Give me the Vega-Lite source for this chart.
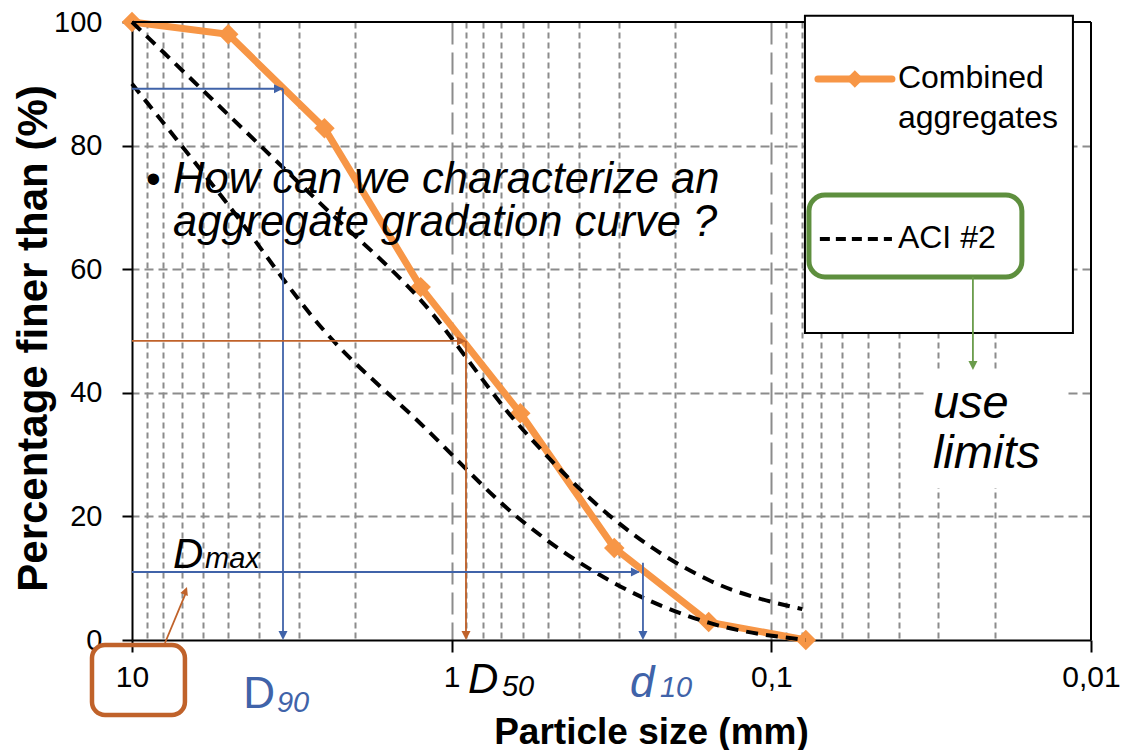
{
 "$schema": "https://vega.github.io/schema/vega-lite/v6.json",
 "width": 959,
 "height": 618,
 "autosize": {"type": "none"},
 "padding": {"left": 132, "top": 22, "right": 38, "bottom": 110},
 "background": "white",
 "config": {"view": {"stroke": null}, "font": "Liberation Sans"},
 "encoding": {
  "x": {"field": "d", "type": "quantitative",
   "scale": {"type": "log", "domain": [0.01, 10], "reverse": true, "nice": false},
   "axis": {
    "title": "Particle size (mm)", "titleFontSize": 37, "titleFontWeight": "bold", "titleColor": "black",
    "titleX": 519, "titleY": 103, "titleBaseline": "alphabetic", "titleAlign": "center",
    "values": [10, 9, 8, 7, 6, 5, 4, 3, 2, 1, 0.9, 0.8, 0.7, 0.6, 0.5, 0.4, 0.3, 0.2, 0.1, 0.09, 0.08, 0.07, 0.06, 0.05, 0.04, 0.03, 0.02, 0.01],
    "labelExpr": "datum.value==10?'10':datum.value==1?'1':datum.value==0.1?'0,1':datum.value==0.01?'0,01':''",
    "labelFontSize": 30, "labelColor": "black", "labelFlush": false, "labelOverlap": false, "labelPadding": 10,
    "domainColor": "black", "domainWidth": 2,
    "tickSize": 12, "tickColor": "black", "tickWidth": 2,
    "tickOpacity": {"condition": {"test": "datum.value==10||datum.value==1||datum.value==0.1||datum.value==0.01", "value": 1}, "value": 0},
    "grid": true, "gridColor": "#8c8c8c", "gridWidth": 2,
    "gridDash": {"condition": {"test": "datum.value==1||datum.value==0.1", "value": [22, 8]}, "value": [6, 4]},
    "gridOpacity": {"condition": {"test": "datum.value==10||datum.value==0.01", "value": 0}, "value": 1}
   }
  },
  "y": {"field": "p", "type": "quantitative",
   "scale": {"domain": [0, 100], "nice": false, "zero": false},
   "axis": {
    "title": "Percentage finer than (%)", "titleFontSize": 42, "titleFontWeight": "bold", "titleColor": "black",
    "titleX": -86, "titleY": 316, "titleBaseline": "alphabetic", "titleAlign": "center",
    "values": [0, 20, 40, 60, 80, 100],
    "labelFontSize": 29, "labelColor": "black", "labelPadding": 20,
    "tickSize": 10, "tickColor": "black", "tickWidth": 2,
    "domainColor": "black", "domainWidth": 2,
    "grid": true, "gridColor": "#8c8c8c", "gridWidth": 2, "gridDash": [9, 5],
    "gridOpacity": {"condition": {"test": "datum.value==0||datum.value==100", "value": 0}, "value": 1}
   }
  }
 },
 "layer": [
  {
   "data": {"values": [
    {"d": 10, "p": 100}, {"d": 5, "p": 98}, {"d": 2.5, "p": 82.8}, {"d": 1.25, "p": 57.1},
    {"d": 0.61, "p": 36.7}, {"d": 0.31, "p": 14.9}, {"d": 0.157, "p": 2.9}, {"d": 0.078, "p": 0}
   ]},
   "mark": {"type": "line", "color": "#F79646", "strokeWidth": 7,
    "point": {"shape": "diamond", "size": 420, "filled": true, "color": "#F79646"}}
  },
  {
   "data": {"values": [
    {"s": "upper", "d": 10, "p": 100}, {"s": "upper", "d": 5, "p": 85}, {"s": "upper", "d": 2.5, "p": 70},
    {"s": "upper", "d": 1.25, "p": 55}, {"s": "upper", "d": 0.61, "p": 34.5}, {"s": "upper", "d": 0.31, "p": 19.5},
    {"s": "upper", "d": 0.157, "p": 9.7}, {"s": "upper", "d": 0.08, "p": 5},
    {"s": "lower", "d": 10, "p": 90}, {"s": "lower", "d": 5, "p": 70.4}, {"s": "lower", "d": 2.5, "p": 50},
    {"s": "lower", "d": 1.25, "p": 35}, {"s": "lower", "d": 0.61, "p": 19.5}, {"s": "lower", "d": 0.31, "p": 9.2},
    {"s": "lower", "d": 0.157, "p": 2.8}, {"s": "lower", "d": 0.078, "p": 0}
   ]},
   "mark": {"type": "line", "color": "black", "strokeWidth": 4, "strokeDash": [12, 8], "interpolate": "monotone"},
   "encoding": {"detail": {"field": "s"}}
  },
  {
   "data": {"values": [
    {"d": 10, "d2": 0.01, "p": 100, "p2": 100},
    {"d": 0.01, "d2": 0.01, "p": 0, "p2": 100}
   ]},
   "mark": {"type": "rule", "color": "black", "strokeWidth": 2},
   "encoding": {"x2": {"field": "d2"}, "y2": {"field": "p2"}}
  },
  {
   "data": {"values": [
    {"k": "D90", "d": 10, "d2": 3.37, "p": 89.2, "p2": 89.2},
    {"k": "D90", "d": 3.37, "d2": 3.37, "p": 89.2, "p2": 1},
    {"k": "D50", "d": 10, "d2": 0.91, "p": 48.4, "p2": 48.4},
    {"k": "D50", "d": 0.902, "d2": 0.902, "p": 48.4, "p2": 1},
    {"k": "d10", "d": 10, "d2": 0.26, "p": 11.0, "p2": 11.0},
    {"k": "d10", "d": 0.2521, "d2": 0.2521, "p": 12.5, "p2": 1}
   ]},
   "mark": {"type": "rule", "strokeWidth": 1.8},
   "encoding": {
    "x2": {"field": "d2"}, "y2": {"field": "p2"},
    "color": {"field": "k", "type": "nominal", "scale": {"domain": ["D90", "D50", "d10"], "range": ["#4063A9", "#C0622A", "#4063A9"]}, "legend": null}
   }
  },
  {
   "data": {"values": [
    {"k": "D90", "d": 3.37, "p": 89.2}, {"k": "D50", "d": 0.902, "p": 48.4}, {"k": "d10", "d": 0.2576, "p": 11.0}
   ]},
   "mark": {"type": "point", "shape": "M0,0L-1,-0.5L-1,0.5Z", "filled": true, "size": 324, "opacity": 1},
   "encoding": {"color": {"field": "k", "type": "nominal", "scale": {"domain": ["D90", "D50", "d10"], "range": ["#4063A9", "#C0622A", "#4063A9"]}, "legend": null}}
  },
  {
   "data": {"values": [
    {"k": "D90", "d": 3.37, "p": 0}, {"k": "D50", "d": 0.902, "p": 0}, {"k": "d10", "d": 0.2521, "p": 0}
   ]},
   "mark": {"type": "point", "shape": "M0,0L-0.5,-1L0.5,-1Z", "filled": true, "size": 324, "opacity": 1},
   "encoding": {"color": {"field": "k", "type": "nominal", "scale": {"domain": ["D90", "D50", "d10"], "range": ["#4063A9", "#C0622A", "#4063A9"]}, "legend": null}}
  },
  {
   "data": {"values": [{"d": 13.34, "d2": 6.83, "p": -0.81, "p2": -12.14}]},
   "mark": {"type": "rect", "fill": "transparent", "stroke": "#C0622A", "strokeWidth": 4.5, "cornerRadius": 13},
   "encoding": {"x2": {"field": "d2"}, "y2": {"field": "p2"}}
  },
  {
   "data": {"values": [{"d": 7.885, "d2": 6.8, "p": -0.49, "p2": 7.5}]},
   "mark": {"type": "rule", "color": "#C0622A", "strokeWidth": 1.8},
   "encoding": {"x2": {"field": "d2"}, "y2": {"field": "p2"}}
  },
  {
   "data": {"values": [{"d": 6.73, "p": 8.58}]},
   "mark": {"type": "point", "shape": "M0,0L-0.5,1L0.5,1Z", "filled": true, "size": 256, "angle": 21, "color": "#C0622A", "opacity": 1}
  },
  {
   "data": {"values": [{"t": "•", "d": 9.04, "p": 72.33}]},
   "mark": {"type": "text", "align": "left", "baseline": "alphabetic", "fontSize": 42, "color": "black"},
   "encoding": {"text": {"field": "t"}}
  },
  {
   "data": {"values": [
    {"t": "How can we characterize an", "d": 7.44, "p": 72.33},
    {"t": "aggregate gradation curve ?", "d": 7.44, "p": 65.37}
   ]},
   "mark": {"type": "text", "align": "left", "baseline": "alphabetic", "fontSize": 43.5, "fontStyle": "italic", "color": "black"},
   "encoding": {"text": {"field": "t"}}
  },
  {
   "data": {"values": [{"t": "D", "d": 7.44, "p": 11.65}, {"t": "D", "d": 0.889, "p": -8.58}]},
   "mark": {"type": "text", "align": "left", "baseline": "alphabetic", "fontSize": 42, "fontStyle": "italic", "color": "black"},
   "encoding": {"text": {"field": "t"}}
  },
  {
   "data": {"values": [{"t": "max", "d": 5.91, "p": 11.65}, {"t": "50", "d": 0.696, "p": -9.06}]},
   "mark": {"type": "text", "align": "left", "baseline": "alphabetic", "fontSize": 29, "fontStyle": "italic", "color": "black"},
   "encoding": {"text": {"field": "t"}}
  },
  {
   "data": {"values": [{"t": "D", "d": 4.49, "p": -11.0}]},
   "mark": {"type": "text", "align": "left", "baseline": "alphabetic", "fontSize": 44, "color": "#4063A9"},
   "encoding": {"text": {"field": "t"}}
  },
  {
   "data": {"values": [{"t": "d", "d": 0.277, "p": -9.2}]},
   "mark": {"type": "text", "align": "left", "baseline": "alphabetic", "fontSize": 44, "fontStyle": "italic", "color": "#4063A9"},
   "encoding": {"text": {"field": "t"}}
  },
  {
   "data": {"values": [{"t": "90", "d": 3.52, "p": -11.65}, {"t": "10", "d": 0.223, "p": -9.2}]},
   "mark": {"type": "text", "align": "left", "baseline": "alphabetic", "fontSize": 29, "fontStyle": "italic", "color": "#4063A9"},
   "encoding": {"text": {"field": "t"}}
  },
  {
   "data": {"values": [{"d": 0.0785, "d2": 0.01139, "p": 101.0, "p2": 49.68}]},
   "mark": {"type": "rect", "fill": "white", "stroke": "black", "strokeWidth": 2},
   "encoding": {"x2": {"field": "d2"}, "y2": {"field": "p2"}}
  },
  {
   "data": {"values": [{"d": 0.07148, "d2": 0.04195, "p": 90.78}]},
   "mark": {"type": "rule", "color": "#F79646", "strokeWidth": 7, "strokeCap": "round"},
   "encoding": {"x2": {"field": "d2"}}
  },
  {
   "data": {"values": [{"d": 0.0548, "p": 90.78}]},
   "mark": {"type": "point", "shape": "diamond", "size": 300, "filled": true, "color": "#F79646", "opacity": 1}
  },
  {
   "data": {"values": [{"d": 0.0705, "d2": 0.04195, "p": 64.9}]},
   "mark": {"type": "rule", "color": "black", "strokeWidth": 4, "strokeDash": [10, 6]},
   "encoding": {"x2": {"field": "d2"}}
  },
  {
   "data": {"values": [{"d": 0.07626, "d2": 0.01645, "p": 72.0, "p2": 58.74}]},
   "mark": {"type": "rect", "fill": "transparent", "stroke": "#5E8F3E", "strokeWidth": 5, "cornerRadius": 16},
   "encoding": {"x2": {"field": "d2"}, "y2": {"field": "p2"}}
  },
  {
   "data": {"values": [
    {"t": "Combined", "d": 0.04018, "p": 89.3},
    {"t": "aggregates", "d": 0.04018, "p": 82.9},
    {"t": "ACI #2", "d": 0.04018, "p": 63.4}
   ]},
   "mark": {"type": "text", "align": "left", "baseline": "alphabetic", "fontSize": 32, "color": "black"},
   "encoding": {"text": {"field": "t"}}
  },
  {
   "data": {"values": [{"d": 0.03284, "d2": 0.0119, "p": 43.7, "p2": 24.6}]},
   "mark": {"type": "rect", "fill": "white"},
   "encoding": {"x2": {"field": "d2"}, "y2": {"field": "p2"}}
  },
  {
   "data": {"values": [{"d": 0.02341, "p": 58.74, "p2": 45.0}]},
   "mark": {"type": "rule", "color": "#6B9C4B", "strokeWidth": 1.8},
   "encoding": {"y2": {"field": "p2"}}
  },
  {
   "data": {"values": [{"d": 0.02341, "p": 43.7}]},
   "mark": {"type": "point", "shape": "M0,0L-0.5,-1L0.5,-1Z", "filled": true, "size": 324, "color": "#6B9C4B", "opacity": 1}
  },
  {
   "data": {"values": [
    {"t": "use", "d": 0.03123, "p": 35.9},
    {"t": "limits", "d": 0.03123, "p": 27.8}
   ]},
   "mark": {"type": "text", "align": "left", "baseline": "alphabetic", "fontSize": 47, "fontStyle": "italic", "color": "black"},
   "encoding": {"text": {"field": "t"}}
  }
 ]
}
